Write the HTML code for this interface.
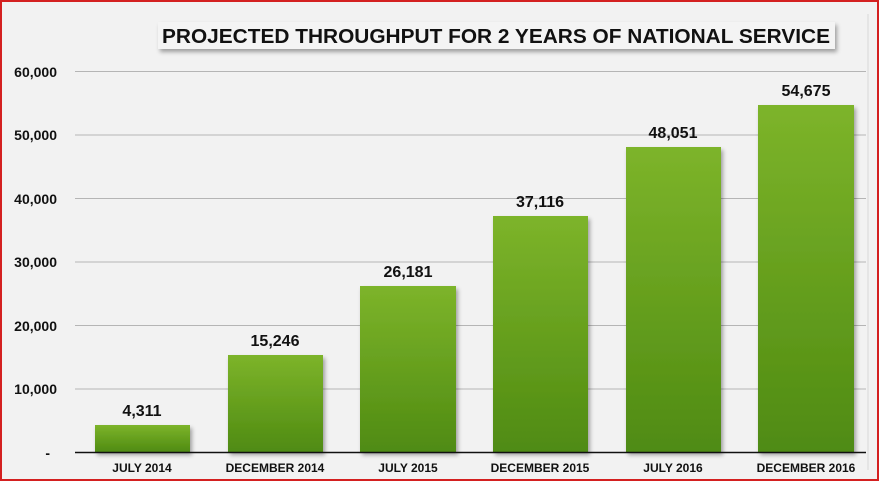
<!DOCTYPE html>
<html><head><style>
body{margin:0;width:879px;height:481px;overflow:hidden;background:#fff}
.wrap{position:absolute;left:0;top:0;width:875px;height:477px;border:2px solid #d42020;background:#f2f2f2}
text{font-family:"Liberation Sans",Arial,sans-serif;font-weight:bold}
</style></head><body>
<div class="wrap"></div>
<svg width="879" height="481" style="position:absolute;left:0;top:0">
<defs>
<linearGradient id="g" x1="0" y1="0" x2="0" y2="1">
<stop offset="0" stop-color="#7db42a"/><stop offset="1" stop-color="#4f8b12"/>
</linearGradient>
<filter id="s" x="-10%" y="-10%" width="130%" height="150%"><feDropShadow dx="2" dy="3" stdDeviation="2" flood-color="#000" flood-opacity="0.35"/></filter>
</defs>
<line x1="868" y1="14" x2="868" y2="470" stroke="#d8d8d8"/>
<g stroke="#b5b5b5" stroke-width="1">
<line x1="75" y1="71.5" x2="866" y2="71.5"/>
<line x1="75" y1="135" x2="866" y2="135"/>
<line x1="75" y1="198.5" x2="866" y2="198.5"/>
<line x1="75" y1="262" x2="866" y2="262"/>
<line x1="75" y1="325.5" x2="866" y2="325.5"/>
<line x1="75" y1="389" x2="866" y2="389"/>
</g>
<g font-size="14" fill="#111" text-anchor="end">
<text x="57" y="77">60,000</text><text x="57" y="140">50,000</text><text x="57" y="204">40,000</text>
<text x="57" y="267">30,000</text><text x="57" y="331">20,000</text><text x="57" y="394">10,000</text>
<text x="50" y="458">-</text>
</g>
<g fill="url(#g)" filter="url(#s)">
<rect x="95" y="425" width="95" height="27"/>
<rect x="228" y="355" width="95" height="97"/>
<rect x="360" y="286" width="96" height="166"/>
<rect x="493" y="216" width="95" height="236"/>
<rect x="626" y="147" width="95" height="305"/>
<rect x="758" y="105" width="96" height="347"/>
</g>
<line x1="75" y1="452.5" x2="866" y2="452.5" stroke="#111" stroke-width="1.5"/>
<g font-size="16" fill="#111" text-anchor="middle">
<text x="142" y="416">4,311</text><text x="275" y="346">15,246</text><text x="408" y="277">26,181</text>
<text x="540" y="207">37,116</text><text x="673" y="138">48,051</text><text x="806" y="96">54,675</text>
</g>
<g font-size="12" fill="#111" text-anchor="middle">
<text x="142" y="472">JULY 2014</text><text x="275" y="472">DECEMBER 2014</text><text x="408" y="472">JULY 2015</text>
<text x="540" y="472">DECEMBER 2015</text><text x="673" y="472">JULY 2016</text><text x="806" y="472">DECEMBER 2016</text>
</g>
<rect x="158" y="22" width="677" height="27" fill="#f4f4f4" filter="url(#s)"/>
<text x="496" y="43" font-size="20.5" fill="#111" text-anchor="middle" textLength="668" lengthAdjust="spacingAndGlyphs">PROJECTED THROUGHPUT FOR 2 YEARS OF NATIONAL SERVICE</text>
</svg>
</body></html>
